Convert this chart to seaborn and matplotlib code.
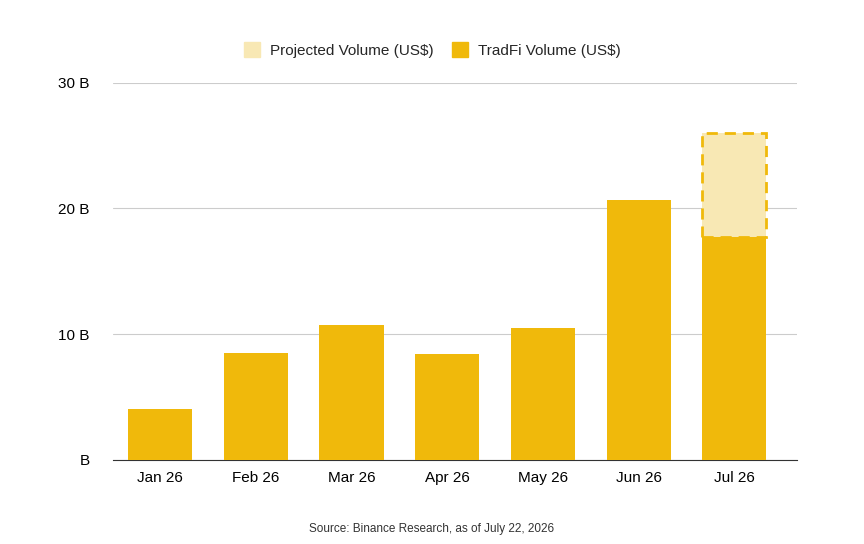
import matplotlib.pyplot as plt
import seaborn as sns
import pandas as pd

months = ['Jan 26', 'Feb 26', 'Mar 26', 'Apr 26', 'May 26', 'Jun 26', 'Jul 26']
tradfi = [4.0, 8.5, 10.7, 8.4, 10.5, 20.7, 17.7]
projected = [None, None, None, None, None, None, 26.0]
yticks = [0, 10, 20, 30]
ytick_labels = ['B', '10 B', '20 B', '30 B']

gold = '#F0B90B'
light = '#F8E8B4'

sns.set_style('white')
plt.rcParams['font.family'] = ['Liberation Sans', 'DejaVu Sans']

fig = plt.figure(figsize=(8.64, 5.44), dpi=100)
ax = fig.add_axes([0.131, 0.155, 0.792, 0.693])

df = pd.DataFrame({'month': months, 'tradfi': tradfi})
proj = pd.DataFrame({'month': months, 'proj': [p if p is not None else 0 for p in projected]})

# projected bar behind the actual one
sns.barplot(data=proj, x='month', y='proj', color=light, width=0.67, ax=ax,
            saturation=1, linewidth=0, zorder=2)
sns.barplot(data=df, x='month', y='tradfi', color=gold, width=0.67, ax=ax,
            saturation=1, linewidth=0, zorder=3)

# dashed outline on the projected bar
for i, p in enumerate(projected):
    if p is not None:
        ax.add_patch(plt.Rectangle((i - 0.335, tradfi[i]), 0.67, p - tradfi[i],
                                   fill=False, edgecolor=gold, linestyle=(0, (4, 2.5)),
                                   linewidth=2, zorder=4))

ax.set_ylim(0, 30)
ax.set_xlim(-0.49, 6.66)
ax.set_yticks(yticks)
ax.set_yticklabels(ytick_labels, fontsize=11)
ax.tick_params(axis='x', labelsize=11, length=0, pad=8, labelcolor='black')
ax.tick_params(axis='y', length=0, pad=17, labelcolor='black')
ax.set_xlabel('')
ax.set_ylabel('')
ax.yaxis.grid(True, color='#cccccc', linewidth=0.8, zorder=0)
ax.set_axisbelow(True)
for s in ['top', 'right', 'left']:
    ax.spines[s].set_visible(False)
ax.spines['bottom'].set_color('#333333')

handles = [plt.Rectangle((0, 0), 1, 1, color=light), plt.Rectangle((0, 0), 1, 1, color=gold)]
fig.legend(handles, ['Projected Volume (US$)', 'TradFi Volume (US$)'], loc='center',
           bbox_to_anchor=(0.5, 0.908), ncol=2, frameon=False, fontsize=11,
           handlelength=1.1, handleheight=1.1, columnspacing=1.2, handletextpad=0.6)

fig.text(0.5, 0.022, 'Source: Binance Research, as of July 22, 2026', ha='center',
         fontsize=8.5, color='#333333')

fig.savefig('out.png', dpi=100)
